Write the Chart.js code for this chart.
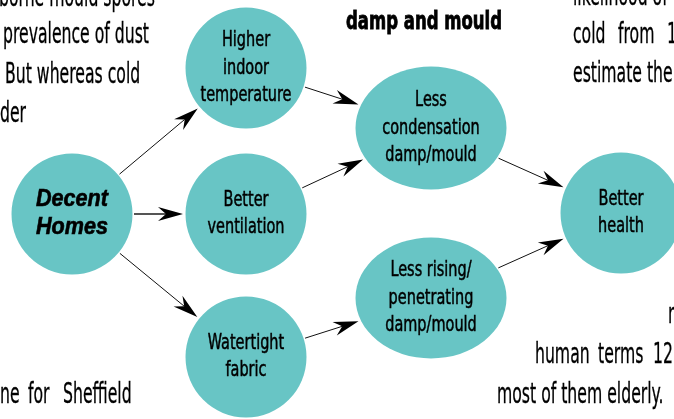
<!DOCTYPE html>
<html>
<head>
<meta charset="utf-8">
<script src="https://cdn.jsdelivr.net/npm/chart.js@4.4.0/dist/chart.umd.min.js"></script>
<style>
  html, body { margin: 0; padding: 0; background: #fff; }
  #diagram { display: block; }
</style>
</head>
<body>
<canvas id="diagram" width="674" height="419"></canvas>
<script>
// nodes of the flow diagram (centre positions on a 674 x 419 value grid)
const nodeLabels = [
    ['Decent', 'Homes'],
    ['Higher', 'indoor', 'temperature'],
    ['Better', 'ventilation'],
    ['Watertight', 'fabric'],
    ['Less', 'condensation', 'damp/mould'],
    ['Less rising/', 'penetrating', 'damp/mould'],
    ['Better', 'health']
];
const nodeX = [72, 246, 246, 246, 431, 431, 621];
const nodeY = [214, 68, 214, 357, 128, 298, 213];

// arrows: from node index -> to node index
const edgeFrom = [0, 0, 0, 1, 2, 3, 4, 5];
const edgeTo   = [1, 2, 3, 4, 4, 5, 6, 6];

const title = 'damp and mould';

// fragments of the surrounding page text
const pageText = ['borne mould spores', 'prevalence of dust', 'But whereas cold', 'der',
    'ne', 'for', 'Sheffield', 'likelihood of', 'cold', 'from', '1', 'estimate the', 'n',
    'human', 'terms', '12', 'most of them elderly.'];

document.addEventListener('DOMContentLoaded', function () {
    const TEAL = '#68c5c5';
    const BODY_FONT = '"Liberation Sans Narrow", "DejaVu Sans Condensed", sans-serif';
    // half-widths / half-heights of the node shapes
    const nodeRx = [61, 61, 61, 61, 76, 76, 61];
    const nodeRy = [61, 61, 61, 61, 62, 61, 61];
    // x, baseline
    const pageTextPos = [
        [-1, 6], [3, 43], [5, 83], [0, 122],
        [0, 403], [28, 403], [63, 403],
        [573, 5], [573, 43], [618, 43], [667, 43], [573, 82], [668, 323],
        [535, 363], [598, 363], [653, 363], [497, 403]
    ];

    function blob(rx, ry) {
        const c = document.createElement('canvas');
        c.width = rx * 2; c.height = ry * 2;
        const g = c.getContext('2d');
        g.fillStyle = TEAL;
        g.beginPath();
        g.ellipse(rx, ry, rx - 0.5, ry - 0.5, 0, 0, Math.PI * 2);
        g.fill();
        return c;
    }

    function edgeDist(rx, ry, ux, uy) {
        return 1 / Math.sqrt((ux / rx) ** 2 + (uy / ry) ** 2);
    }

    // horizontal squeeze so that a sample string gets a known width
    function fitScale(ctx, font, sample, width) {
        ctx.save();
        ctx.font = font;
        const s = width / ctx.measureText(sample).width;
        ctx.restore();
        return s;
    }

    function drawScaled(ctx, text, x, y, font, sx, weight) {
        ctx.save();
        ctx.font = font;
        ctx.translate(x, y);
        ctx.scale(sx, 1);
        ctx.fillText(text, 0, 0);
        if (weight) {
            ctx.lineWidth = weight;
            ctx.strokeText(text, 0, 0);
        }
        ctx.restore();
    }

    const arrowPlugin = {
        id: 'arrows',
        beforeDatasetsDraw(chart) {
            const ctx = chart.ctx;
            const xs = chart.scales.x, ys = chart.scales.y;
            edgeFrom.forEach((a, i) => {
                const b = edgeTo[i];
                const ax = xs.getPixelForValue(nodeX[a]), ay = ys.getPixelForValue(nodeY[a]);
                const bx = xs.getPixelForValue(nodeX[b]), by = ys.getPixelForValue(nodeY[b]);
                const len = Math.hypot(bx - ax, by - ay);
                const ux = (bx - ax) / len, uy = (by - ay) / len;
                const d0 = edgeDist(nodeRx[a], nodeRy[a], ux, uy) + 1;
                const d1 = edgeDist(nodeRx[b], nodeRy[b], ux, uy) + 2;
                const sx = ax + ux * d0, sy = ay + uy * d0;
                const tx = bx - ux * d1, ty = by - uy * d1;
                const heavy = (a === 0 && b === 2);
                const L = 25, W = 7, notch = 8;
                const nx = -uy, ny = ux;
                ctx.save();
                ctx.strokeStyle = heavy ? '#555' : '#111';
                ctx.lineWidth = heavy ? 2 : 1;
                ctx.beginPath();
                ctx.moveTo(sx, sy);
                ctx.lineTo(tx - ux * (L - notch), ty - uy * (L - notch));
                ctx.stroke();
                ctx.fillStyle = '#000';
                ctx.beginPath();
                ctx.moveTo(tx, ty);
                ctx.lineTo(tx - ux * L + nx * W, ty - uy * L + ny * W);
                ctx.lineTo(tx - ux * (L - notch), ty - uy * (L - notch));
                ctx.lineTo(tx - ux * L - nx * W, ty - uy * L - ny * W);
                ctx.closePath();
                ctx.fill();
                ctx.restore();
            });
        },
        afterDatasetsDraw(chart) {
            const ctx = chart.ctx;
            const xs = chart.scales.x, ys = chart.scales.y;
            const nodeFont = '22px ' + BODY_FONT;
            const homesFont = 'italic bold 23px "Liberation Sans", "DejaVu Sans", sans-serif';
            const titleFont = 'bold 24px ' + BODY_FONT;
            const pageFont = '28px ' + BODY_FONT;
            const nodeSx = fitScale(ctx, nodeFont, 'temperature', 91);
            const homesSx = fitScale(ctx, homesFont, 'Decent', 72);
            const titleSx = fitScale(ctx, titleFont, title, 156);
            const pageSx = fitScale(ctx, pageFont, 'prevalence of dust', 146);
            ctx.save();
            ctx.fillStyle = '#000';
            ctx.strokeStyle = '#000';
            ctx.textAlign = 'center';
            ctx.textBaseline = 'middle';
            nodeLabels.forEach((lines, i) => {
                const cx = xs.getPixelForValue(nodeX[i]), cy = ys.getPixelForValue(nodeY[i]);
                const step = i === 0 ? 28 : 27.5;
                const top = cy - step * (lines.length - 1) / 2;
                lines.forEach((t, k) => {
                    if (i === 0) drawScaled(ctx, t, cx, top + k * step, homesFont, homesSx, 0.6);
                    else drawScaled(ctx, t, cx, top + k * step, nodeFont, nodeSx, 0.5);
                });
            });
            // heading
            ctx.textBaseline = 'alphabetic';
            drawScaled(ctx, title, 424, 29, titleFont, titleSx, 0.8);
            // page text around the figure
            ctx.textAlign = 'left';
            pageText.forEach((t, i) => {
                const p = pageTextPos[i];
                drawScaled(ctx, t, p[0], p[1], pageFont, pageSx, 0.3);
            });
            ctx.restore();
        }
    };

    new Chart(document.getElementById('diagram'), {
        type: 'scatter',
        data: {
            datasets: [{
                data: nodeX.map((x, i) => ({ x: x, y: nodeY[i] })),
                pointStyle: nodeX.map((x, i) => blob(nodeRx[i], nodeRy[i])),
                pointRadius: 61,
                pointHoverRadius: 61,
                borderWidth: 0,
                clip: false
            }]
        },
        options: {
            responsive: false,
            devicePixelRatio: 1,
            animation: false,
            events: [],
            layout: { padding: 0, autoPadding: false },
            scales: {
                x: { type: 'linear', min: 0, max: 674, display: false },
                y: { type: 'linear', min: 0, max: 419, reverse: true, display: false }
            },
            plugins: { legend: { display: false }, tooltip: { enabled: false } }
        },
        plugins: [arrowPlugin]
    });
});
</script>
</body>
</html>
